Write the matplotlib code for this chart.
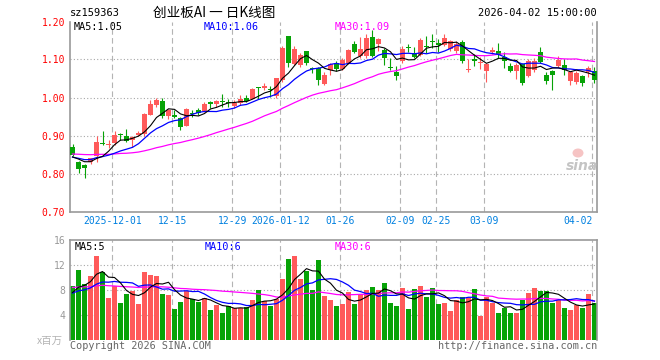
import matplotlib
matplotlib.use('Agg')
import matplotlib.pyplot as plt
from matplotlib.patches import Ellipse
import numpy as np

plt.rcParams['font.family'] = ['DejaVu Sans Mono', 'Noto Sans CJK SC']

# ---------------- data ----------------
open_ = [0.869, 0.831, 0.822, 0.831, 0.846, 0.879, 0.876, 0.880, 0.903, 0.898,
         0.888, 0.901, 0.905, 0.955, 0.980, 0.990, 0.952, 0.952, 0.946, 0.926,
         0.959, 0.968, 0.964, 0.987, 0.984, 0.991, 0.988, 0.978, 0.986, 0.999,
         0.997, 1.026, 1.026, 1.021, 1.005, 1.045, 1.161, 1.089, 1.086, 1.122,
         1.078, 1.077, 1.035, 1.072, 1.092, 1.075, 1.090, 1.142, 1.110, 1.108,
         1.158, 1.140, 1.126, 1.079, 1.066, 1.095, 1.131, 1.116, 1.113, 1.135,
         1.147, 1.144, 1.138, 1.127, 1.122, 1.147, 1.072, 1.101, 1.091, 1.069,
         1.121, 1.122, 1.106, 1.083, 1.070, 1.087, 1.057, 1.072, 1.121, 1.059,
         1.069, 1.083, 1.085, 1.044, 1.040, 1.056, 1.066, 1.070]
high = [0.878, 0.833, 0.825, 0.842, 0.900, 0.912, 0.888, 0.911, 0.907, 0.918,
        0.900, 0.912, 0.960, 0.993, 1.000, 1.000, 0.970, 0.966, 0.950, 0.972,
        0.966, 0.972, 0.989, 0.990, 0.993, 1.008, 0.997, 0.993, 1.006, 1.006,
        1.024, 1.027, 1.037, 1.030, 1.052, 1.135, 1.162, 1.135, 1.116, 1.123,
        1.080, 1.080, 1.068, 1.092, 1.095, 1.105, 1.128, 1.148, 1.160, 1.168,
        1.178, 1.156, 1.130, 1.105, 1.083, 1.135, 1.142, 1.132, 1.157, 1.163,
        1.166, 1.155, 1.168, 1.152, 1.150, 1.152, 1.100, 1.114, 1.107, 1.092,
        1.133, 1.143, 1.120, 1.090, 1.090, 1.090, 1.100, 1.103, 1.132, 1.068,
        1.072, 1.108, 1.100, 1.068, 1.070, 1.060, 1.082, 1.080]
low = [0.845, 0.802, 0.789, 0.825, 0.829, 0.875, 0.866, 0.875, 0.888, 0.882,
       0.870, 0.898, 0.900, 0.953, 0.975, 0.946, 0.944, 0.945, 0.914, 0.924,
       0.948, 0.955, 0.962, 0.973, 0.975, 0.975, 0.975, 0.973, 0.980, 0.987,
       0.995, 0.997, 1.019, 1.002, 0.998, 1.042, 1.081, 1.085, 1.080, 1.085,
       1.065, 1.032, 1.032, 1.060, 1.070, 1.072, 1.088, 1.118, 1.105, 1.105,
       1.107, 1.122, 1.085, 1.072, 1.047, 1.090, 1.120, 1.103, 1.110, 1.117,
       1.129, 1.120, 1.136, 1.122, 1.118, 1.090, 1.067, 1.083, 1.074, 1.040,
       1.114, 1.105, 1.077, 1.067, 1.048, 1.033, 1.054, 1.068, 1.090, 1.035,
       1.019, 1.080, 1.060, 1.032, 1.036, 1.031, 1.055, 1.038]
close = [0.849, 0.811, 0.815, 0.840, 0.882, 0.877, 0.878, 0.901, 0.901, 0.886,
         0.897, 0.907, 0.957, 0.983, 0.993, 0.952, 0.966, 0.950, 0.923, 0.969,
         0.957, 0.958, 0.982, 0.983, 0.990, 0.989, 0.986, 0.986, 0.995, 0.990,
         1.022, 1.024, 1.029, 1.019, 1.050, 1.131, 1.092, 1.127, 1.111, 1.092,
         1.076, 1.046, 1.059, 1.089, 1.075, 1.098, 1.125, 1.121, 1.128, 1.157,
         1.110, 1.153, 1.104, 1.078, 1.056, 1.128, 1.129, 1.107, 1.152, 1.133,
         1.145, 1.137, 1.157, 1.148, 1.141, 1.096, 1.074, 1.097, 1.094, 1.089,
         1.125, 1.111, 1.095, 1.071, 1.086, 1.039, 1.096, 1.096, 1.094, 1.043,
         1.058, 1.099, 1.073, 1.066, 1.065, 1.039, 1.078, 1.046]
volume = [8.7, 11.2, 9.0, 10.2, 13.5, 10.9, 6.7, 8.7, 5.9, 7.4,
          7.8, 5.8, 10.9, 10.45, 10.25, 7.4, 7.2, 5.0, 6.1, 7.9,
          6.5, 6.1, 6.7, 4.8, 5.6, 4.35, 5.5, 5.1, 5.2, 5.3,
          6.4, 8.0, 6.2, 5.5, 6.6, 9.8, 13.0, 13.5, 9.7, 11.1,
          8.0, 12.8, 7.1, 6.45, 5.45, 5.75, 7.7, 5.75, 7.35, 7.95,
          8.5, 7.95, 9.1, 5.9, 5.45, 8.3, 4.95, 8.15, 8.6, 6.9,
          8.3, 5.75, 5.9, 4.7, 6.45, 6.9, 6.7, 8.15, 3.9, 6.9,
          5.9, 4.3, 5.2, 4.3, 4.3, 6.45, 7.5, 8.3, 7.9, 7.9,
          6.0, 6.45, 5.1, 4.85, 5.65, 5.1, 7.35, 5.9]
# estimated closes / volumes of the 29 sessions before the first visible one
prior_close = [0.83, 0.84, 0.85, 0.86, 0.87, 0.88, 0.87, 0.86, 0.87, 0.86,
               0.85, 0.86, 0.87, 0.86, 0.85, 0.84, 0.85, 0.84, 0.85, 0.85,
               0.84, 0.85, 0.84, 0.83, 0.85, 0.84, 0.85, 0.84, 0.84]
prior_vol = [9, 8, 10, 9, 8, 9, 10, 8, 9, 9,
             8, 9, 10, 9, 8, 9, 8, 9, 9, 9,
             7.5, 7.5, 7.0, 7.5, 7.5, 7.0, 7.5, 7.2, 7.6]
tick_idx = [7, 17, 27, 35, 45, 55, 61, 69, 87]
tick_labels = ['2025-12-01', '12-15', '12-29', '2026-01-12', '01-26',
               '02-09', '02-25', '03-09', '04-02']
price_ticks = [0.70, 0.80, 0.90, 1.00, 1.10, 1.20]
vol_ticks = [4, 8, 12, 16]

# ---------------- helpers ----------------
def moving_avg(prior, vals, n):
    full = np.array(list(prior) + list(vals), dtype=float)
    p = len(prior)
    return np.array([full[p + i - n + 1:p + i + 1].mean() for i in range(len(vals))])

o = np.array(open_); h = np.array(high); l = np.array(low); c = np.array(close)
v = np.array(volume)
n = len(c)
x = np.arange(n)

RED = '#ff5a5a'
GREEN = '#07a307'
up = c >= o
cols = np.where(up, RED, GREEN)

W, H = 660, 360
fig = plt.figure(figsize=(6.6, 3.6), dpi=100)
fig.patch.set_facecolor('white')

def box(left, top, right, bottom):
    return [left / W, 1 - bottom / H, (right - left) / W, (bottom - top) / H]

def fx(px):
    return px / W

def fy(py):
    return 1 - py / H

ax = fig.add_axes(box(70, 21.5, 597, 211.5))
axv = fig.add_axes(box(70, 240, 597, 340))

xlim = (-0.417, 87.42)
tick_pos = np.array(tick_idx) - 0.37

# ---------------- price panel ----------------
for yv in price_ticks[1:-1]:
    ax.axhline(yv, color='#a8a8a8', lw=0.8, ls=(0, (1, 2)), zorder=0)
for tp in tick_pos:
    ax.axvline(tp, color='#b4b4b4', lw=0.8, ls=(0, (5, 3)), zorder=0)

ax.vlines(x, l, h, colors=cols, lw=0.8, zorder=2)
body_bottom = np.minimum(o, c)
body_h = np.maximum(np.abs(c - o), 0.0028)
ax.bar(x, body_h, bottom=body_bottom, width=0.83, color=cols, linewidth=0, zorder=3)

ma5 = moving_avg(prior_close, close, 5)
ma10 = moving_avg(prior_close, close, 10)
ma30 = moving_avg(prior_close, close, 30)
ax.plot(x, ma30, color='#ff00ff', lw=0.9, zorder=4)
ax.plot(x, ma10, color='#0000ff', lw=0.9, zorder=4)
ax.plot(x, ma5, color='black', lw=0.8, zorder=4)

ax.set_xlim(*xlim)
ax.set_ylim(0.70, 1.20)
ax.set_yticks(price_ticks)
ax.set_yticklabels([f'{t:.2f}' for t in price_ticks])
ax.tick_params(axis='y', length=0, pad=3.5, labelcolor='red', labelsize=7)
ax.set_xticks(tick_pos)
ax.set_xticklabels(tick_labels)
ax.tick_params(axis='x', length=0, pad=3.5, labelcolor='#0080e0', labelsize=7)
ax.get_xticklabels()[-1].set_horizontalalignment('right')
ax.spines['top'].set_visible(False)
for s in ['left', 'right', 'bottom']:
    ax.spines[s].set_color('#9a9a9a')
    ax.spines[s].set_linewidth(1.2)

# ---------------- volume panel ----------------
for yv in vol_ticks[:-1]:
    axv.axhline(yv, color='#a8a8a8', lw=0.8, ls=(0, (1, 2)), zorder=0)
for tp in tick_pos:
    axv.axvline(tp, color='#b4b4b4', lw=0.8, ls=(0, (5, 3)), zorder=0)
axv.bar(x, v, width=0.83, color=cols, linewidth=0, zorder=2)
vma5 = moving_avg(prior_vol, volume, 5)
vma10 = moving_avg(prior_vol, volume, 10)
vma30 = moving_avg(prior_vol, volume, 30)
axv.plot(x, vma30, color='#ff00ff', lw=0.9, zorder=4)
axv.plot(x, vma10, color='#0000ff', lw=0.9, zorder=4)
axv.plot(x, vma5, color='black', lw=0.8, zorder=4)
axv.set_xlim(*xlim)
axv.set_ylim(0, 16)
axv.set_yticks(vol_ticks)
axv.set_yticklabels([str(t) for t in vol_ticks])
axv.tick_params(axis='y', length=0, pad=3.5, labelcolor='#999999', labelsize=7)
axv.set_xticks([])
axv.spines['bottom'].set_visible(False)
for s in ['left', 'right', 'top']:
    axv.spines[s].set_color('#9a9a9a')
    axv.spines[s].set_linewidth(1.2)

# ---------------- texts ----------------
fig.text(fx(70), fy(13), 'sz159363', ha='left', va='center', fontsize=7.5, color='black')
fig.text(fx(214), fy(12.5), '创业板AI 一 日K线图', ha='center', va='center', fontsize=9.8,
         color='black', family=['Noto Sans CJK SC', 'DejaVu Sans'])
fig.text(fx(597), fy(13), '2026-04-02 15:00:00', ha='right', va='center', fontsize=7.5, color='black')

fig.text(fx(74), fy(26.5), 'MA5:1.05', ha='left', va='center', fontsize=7.3, color='black')
fig.text(fx(204), fy(26.5), 'MA10:1.06', ha='left', va='center', fontsize=7.3, color='#0000ff')
fig.text(fx(335), fy(26.5), 'MA30:1.09', ha='left', va='center', fontsize=7.3, color='#ff00ff')

fig.text(fx(74.5), fy(246.5), 'MA5:5', ha='left', va='center', fontsize=7.3, color='black')
fig.text(fx(204.5), fy(246.5), 'MA10:6', ha='left', va='center', fontsize=7.3, color='#0000ff')
fig.text(fx(334.5), fy(246.5), 'MA30:6', ha='left', va='center', fontsize=7.3, color='#ff00ff')

fig.text(fx(63), fy(341), 'x百万', ha='right', va='center', fontsize=7.5, color='#b4b4b4',
         family=['Noto Sans CJK SC', 'DejaVu Sans'])
fig.text(fx(70), fy(346), 'Copyright 2026 SINA.COM', ha='left', va='center', fontsize=7.3, color='#666666')
fig.text(fx(597), fy(346), 'http://finance.sina.com.cn', ha='right', va='center', fontsize=7.3, color='#666666')

# sina watermark
fig.add_artist(Ellipse((fx(578), fy(153)), 11 / W, 9 / H, transform=fig.transFigure,
                       facecolor='#f6c4c4', edgecolor='none'))
fig.text(fx(582), fy(166), 'sina', ha='center', va='center', fontsize=10, fontstyle='italic',
         fontweight='bold', color='#c4c4c4', family='DejaVu Sans')

fig.savefig('out.png', dpi=100, facecolor='white')
